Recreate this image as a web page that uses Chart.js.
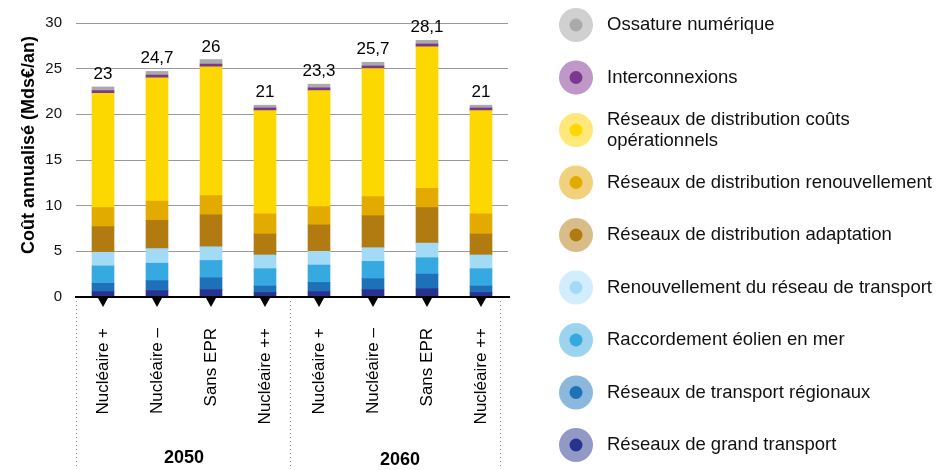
<!DOCTYPE html>
<html>
<head>
<meta charset="utf-8">
<script src="https://cdn.jsdelivr.net/npm/chart.js@4.4.1/dist/chart.umd.min.js"></script>
<style>
  html, body { margin: 0; padding: 0; background: #fff; }
</style>
</head>
<body>
<canvas id="myChart" width="944" height="470"></canvas>
<script>
// --- data (Mds€/an) ---
var scenarios = ['Nucléaire +', 'Nucléaire –', 'Sans EPR', 'Nucléaire ++',
                 'Nucléaire +', 'Nucléaire –', 'Sans EPR', 'Nucléaire ++'];
var years = ['2050', '2060'];
var totals = [23, 24.7, 26, 21, 23.3, 25.7, 28.1, 21];

var grandTransport  = [0.6, 0.7, 0.8, 0.5, 0.6, 0.8, 0.9, 0.5];
var regionaux       = [0.9, 1.1, 1.3, 0.7, 1.0, 1.2, 1.6, 0.7];
var eolienMer       = [1.9, 1.9, 1.9, 1.9, 1.9, 1.9, 1.8, 1.9];
var renouvTransport = [1.5, 1.6, 1.5, 1.5, 1.5, 1.5, 1.6, 1.5];
var distribAdapt    = [2.8, 3.1, 3.5, 2.3, 2.9, 3.5, 3.9, 2.3];
var distribRenouv   = [2.1, 2.1, 2.1, 2.2, 2.0, 2.1, 2.1, 2.2];
var distribCouts    = [12.5, 13.5, 14.1, 11.3, 12.7, 14.0, 15.5, 11.3];
var interconnexions = [0.3, 0.3, 0.3, 0.3, 0.3, 0.3, 0.3, 0.3];
var ossature        = [0.4, 0.4, 0.5, 0.3, 0.4, 0.4, 0.4, 0.3];

var seriesNames = [
    'Réseaux de grand transport',
    'Réseaux de transport régionaux',
    'Raccordement éolien en mer',
    'Renouvellement du réseau de transport',
    'Réseaux de distribution adaptation',
    'Réseaux de distribution renouvellement',
    'Réseaux de distribution coûts\nopérationnels',
    'Interconnexions',
    'Ossature numérique'
];
var seriesValues = [grandTransport, regionaux, eolienMer, renouvTransport,
                    distribAdapt, distribRenouv, distribCouts, interconnexions, ossature];

var barColors  = ['#28338f', '#1e71b8', '#36a9e0', '#a3daf6', '#b27b12', '#e3ab00', '#fdd800', '#7b3890', '#aaaaaa'];
var ringColors = ['#9399c6', '#8db8dd', '#9cd4f0', '#d2edfb', '#d9bd88', '#f0d27e', '#ffe87a', '#bf98c7', '#d0d0d0'];

var FONT = '"Liberation Sans", Arial, Helvetica, sans-serif';

function fmt(v){
    return String(v).replace('.', ',');
}

var extras = {
    id: 'extras',
    afterDatasetsDraw: function(chart){
        var ctx = chart.ctx, xs = chart.scales.x, ys = chart.scales.y, area = chart.chartArea;
        var y0 = ys.getPixelForValue(0);
        ctx.save();

        // base line
        ctx.strokeStyle = '#000';
        ctx.lineWidth = 2;
        ctx.beginPath();
        ctx.moveTo(area.left - 1, y0);
        ctx.lineTo(area.right + 2, y0);
        ctx.stroke();

        // small triangles under each bar + totals above
        ctx.fillStyle = '#000';
        ctx.font = '17px ' + FONT;
        ctx.textAlign = 'center';
        ctx.textBaseline = 'alphabetic';
        scenarios.forEach(function(s, i){
            var px = xs.getPixelForValue(i);
            ctx.beginPath();
            ctx.moveTo(px - 5, y0 + 1);
            ctx.lineTo(px + 5, y0 + 1);
            ctx.lineTo(px, y0 + 10);
            ctx.closePath();
            ctx.fill();

            var sum = 0;
            seriesValues.forEach(function(arr){ sum += arr[i]; });
            ctx.fillText(fmt(totals[i]), px, ys.getPixelForValue(sum) - 8);
        });

        // dotted separators
        var mid = (xs.getPixelForValue(3) + xs.getPixelForValue(4)) / 2;
        ctx.strokeStyle = '#888';
        ctx.lineWidth = 1;
        ctx.setLineDash([1, 3]);
        [area.left, mid - 2, area.right - 8].forEach(function(px){
            ctx.beginPath();
            ctx.moveTo(Math.round(px) + 0.5, y0 + 4);
            ctx.lineTo(Math.round(px) + 0.5, 468);
            ctx.stroke();
        });
        ctx.setLineDash([]);

        // year labels
        ctx.font = 'bold 18px ' + FONT;
        ctx.fillStyle = '#000';
        ctx.textBaseline = 'middle';
        ctx.fillText(years[0], (xs.getPixelForValue(0) + xs.getPixelForValue(3)) / 2, 458);
        ctx.fillText(years[1], (xs.getPixelForValue(4) + xs.getPixelForValue(7)) / 2, 460);

        // y title
        ctx.save();
        ctx.translate(29, 145);
        ctx.rotate(-Math.PI / 2);
        ctx.font = 'bold 18px ' + FONT;
        ctx.fillText('Coût annualisé (Mds€/an)', 0, 0);
        ctx.restore();

        // legend (top of stack first)
        ctx.textAlign = 'left';
        ctx.textBaseline = 'middle';
        ctx.font = '18.5px ' + FONT;
        for (var k = 0; k < seriesNames.length; k++){
            var idx = seriesNames.length - 1 - k;
            var cy = 25 + k * 52.5;
            ctx.fillStyle = ringColors[idx];
            ctx.beginPath(); ctx.arc(576, cy, 17, 0, Math.PI * 2); ctx.fill();
            ctx.fillStyle = barColors[idx];
            ctx.beginPath(); ctx.arc(576, cy, 6.5, 0, Math.PI * 2); ctx.fill();
            ctx.fillStyle = '#111';
            var lines = seriesNames[idx].split('\n');
            lines.forEach(function(t, j){
                ctx.fillText(t, 607, cy + (j - (lines.length - 1) / 2) * 21);
            });
        }
        ctx.restore();
    }
};

var ctx = document.getElementById('myChart').getContext('2d');
var myChart = new Chart(ctx, {
    type: 'bar',
    data: {
        labels: scenarios,
        datasets: seriesValues.map(function(arr, i){
            return {
                label: seriesNames[i],
                data: arr,
                backgroundColor: barColors[i],
                borderWidth: 0,
                barThickness: 22
            };
        })
    },
    options: {
        responsive: false,
        devicePixelRatio: 1,
        animation: false,
        layout: { padding: { left: 0, right: 436, top: 20, bottom: 0 } },
        plugins: {
            legend: { display: false },
            tooltip: { enabled: false }
        },
        scales: {
            x: {
                stacked: true,
                grid: { display: false, drawTicks: false },
                border: { display: false },
                ticks: {
                    autoSkip: false,
                    minRotation: 90,
                    maxRotation: 90,
                    padding: 31,
                    color: '#000',
                    font: { family: FONT, size: 17 }
                },
                afterFit: function(scale){ scale.height = 173; }
            },
            y: {
                stacked: true,
                min: 0,
                max: 30,
                grid: {
                    drawTicks: false,
                    color: function(c){ return c.tick && c.tick.value === 0 ? 'rgba(0,0,0,0)' : '#9a9a9a'; },
                    lineWidth: 1
                },
                border: { display: false },
                ticks: {
                    stepSize: 5,
                    padding: 14,
                    color: '#111',
                    font: { family: FONT, size: 15 }
                },
                afterFit: function(scale){ scale.width = 76; }
            }
        }
    },
    plugins: [extras]
});
</script>
</body>
</html>
